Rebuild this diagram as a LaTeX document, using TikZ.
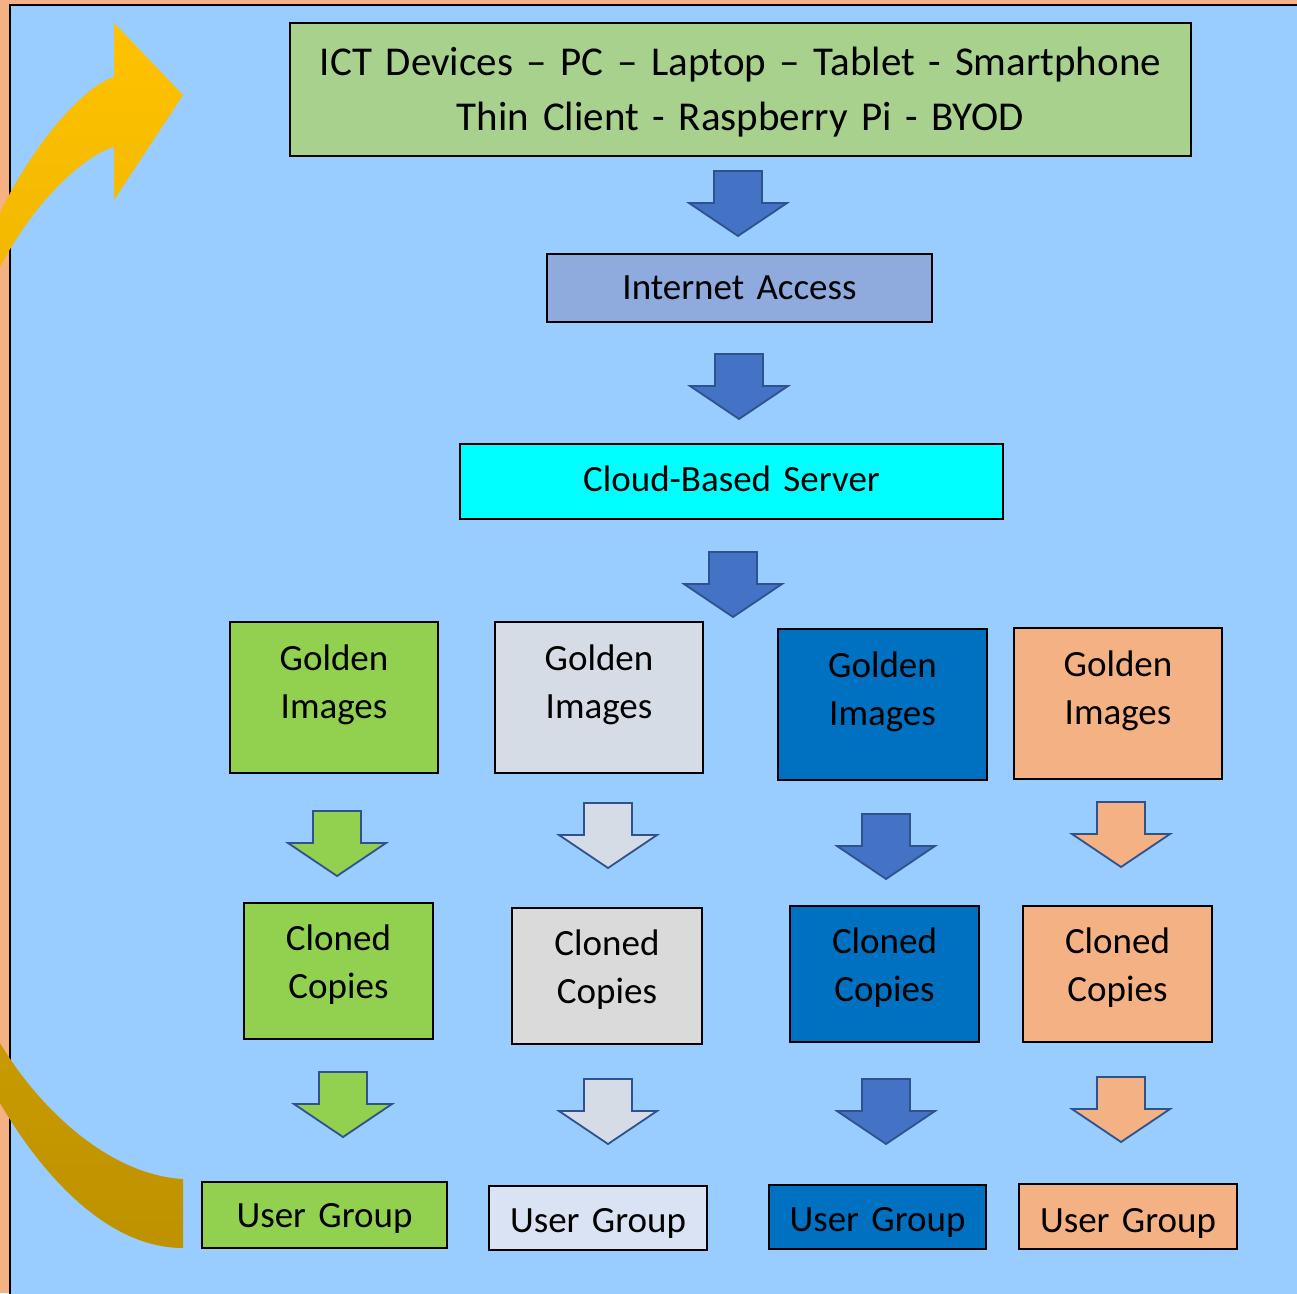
\documentclass[tikz,border=0pt]{standalone}
\usepackage{fontspec}
\setmainfont{Carlito}
\definecolor{bgblue}{HTML}{99CCFF}
\definecolor{edgeorange}{HTML}{F4B183}
\definecolor{topgreen}{HTML}{A9D18E}
\definecolor{netblue}{HTML}{8FAADC}
\definecolor{cloudcyan}{HTML}{00FFFF}
\definecolor{grpgreen}{HTML}{92D050}
\definecolor{goldgrey}{HTML}{D6DCE5}
\definecolor{clonegrey}{HTML}{DADADA}
\definecolor{usergrey}{HTML}{DAE3F3}
\definecolor{grpblue}{HTML}{0070C0}
\definecolor{grporange}{HTML}{F4B183}
\definecolor{arrowblue}{HTML}{4472C4}
\definecolor{arrowedge}{HTML}{2F528F}
\definecolor{goldtop}{HTML}{FFC200}
\definecolor{goldbottom}{HTML}{BE9200}
\tikzset{
  box/.style={draw=black, line width=2pt, inner sep=0pt, align=center,
    font=\fontsize{37}{48}\selectfont},
  barrow/.style={draw=arrowedge, line width=1.8pt, line join=miter},
  blockarrow/.pic={\path[pic actions] (-24,0) -- (24,0) -- (24,32) -- (49,32)
      -- (0,65) -- (-49,32) -- (-24,32) -- cycle;}
}
\begin{document}
\begin{tikzpicture}[x=1pt,y=-1pt]
\useasboundingbox (0,0) rectangle (1297,1293);
% background
\fill[edgeorange] (0,0) rectangle (1297,1293);
\fill[bgblue] (10,5) rectangle (1300,1300);
\draw[black, line width=2pt] (10,1300) -- (10,5) -- (1300,5);
% big curved arrow
\begin{scope}
\clip (0,0) rectangle (1297,1293);
\path[top color=goldtop, bottom color=goldbottom]
  (183,95) -- (114,23) -- (114,77)
  .. controls (80,88) and (30,150) .. (0,213)
  -- (-30,276) -- (-80,330) -- (-80,1000) -- (-20,1069) -- (0,1103)
  .. controls (45,1180) and (110,1248) .. (183,1248)
  -- (183,1179)
  .. controls (110,1175) and (40,1110) .. (0,1043)
  -- (-10,1025) -- (-10,290) -- (0,267)
  .. controls (35,200) and (85,155) .. (114,147)
  -- (114,200) -- cycle;
\end{scope}
% main chain
\node[box, fill=topgreen, minimum width=901, minimum height=133, text width=880,
  text height=0pt, text depth=29pt, font=\fontsize{41}{55}\selectfont] (ict) at (740.5,89.5)
  {ICT Devices – PC – Laptop – Tablet - Smartphone\\Thin Client - Raspberry Pi - BYOD};
\node[box, fill=netblue, minimum width=385, minimum height=68, text width=370,
  text height=22.6pt, text depth=0pt] (net) at (739.5,288) {Internet Access};
\node[box, fill=cloudcyan, minimum width=543, minimum height=75, text width=530,
  text height=19pt, text depth=0pt] (cloud) at (731.5,481.5) {Cloud-Based Server};
\pic[barrow, fill=arrowblue] (a1) at (738,171) {blockarrow};
\pic[barrow, fill=arrowblue] (a2) at (739,354) {blockarrow};
\pic[barrow, fill=arrowblue] (a3) at (733,552) {blockarrow};
% golden images
\node[box, fill=grpgreen, minimum width=208, minimum height=151, text width=196,
  text height=0pt, text depth=55pt] (g1) at (334,697.5) {Golden\\Images};
\node[box, fill=goldgrey, minimum width=208, minimum height=151, text width=196,
  text height=0pt, text depth=55pt] (g2) at (599,697.5) {Golden\\Images};
\node[box, fill=grpblue, minimum width=209, minimum height=151, text width=196,
  text height=0pt, text depth=55pt] (g3) at (882.5,704.5) {Golden\\Images};
\node[box, fill=grporange, minimum width=208, minimum height=151, text width=196,
  text height=0pt, text depth=55pt] (g4) at (1118,703.5) {Golden\\Images};
\pic[barrow, fill=grpgreen] (b1) at (337,811) {blockarrow};
\pic[barrow, fill=goldgrey] (b2) at (608,803) {blockarrow};
\pic[barrow, fill=arrowblue] (b3) at (886,814) {blockarrow};
\pic[barrow, fill=grporange] (b4) at (1121,802) {blockarrow};
% cloned copies
\node[box, fill=grpgreen, minimum width=189, minimum height=136, text width=178,
  text height=0pt, text depth=42pt] (c1) at (338.5,971) {Cloned\\Copies};
\node[box, fill=clonegrey, minimum width=190, minimum height=136, text width=178,
  text height=0pt, text depth=42pt] (c2) at (607,976) {Cloned\\Copies};
\node[box, fill=grpblue, minimum width=189, minimum height=136, text width=178,
  text height=0pt, text depth=42pt] (c3) at (884.5,974) {Cloned\\Copies};
\node[box, fill=grporange, minimum width=189, minimum height=136, text width=178,
  text height=0pt, text depth=42pt] (c4) at (1117.5,974) {Cloned\\Copies};
\pic[barrow, fill=grpgreen] (d1) at (343,1072) {blockarrow};
\pic[barrow, fill=goldgrey] (d2) at (608,1079) {blockarrow};
\pic[barrow, fill=arrowblue] (d3) at (886,1079) {blockarrow};
\pic[barrow, fill=grporange] (d4) at (1121,1077) {blockarrow};
% user groups
\node[box, fill=grpgreen, minimum width=245, minimum height=66, text width=232,
  text height=24pt, text depth=0pt] (u1) at (324.5,1215) {User Group};
\node[box, fill=usergrey, minimum width=218, minimum height=64, text width=206,
  text height=28pt, text depth=0pt] (u2) at (598,1218) {User Group};
\node[box, fill=grpblue, minimum width=217, minimum height=64, text width=206,
  text height=28pt, text depth=0pt] (u3) at (877.5,1217) {User Group};
\node[box, fill=grporange, minimum width=218, minimum height=65, text width=206,
  text height=31pt, text depth=0pt] (u4) at (1128,1216.5) {User Group};
\end{tikzpicture}
\end{document}
